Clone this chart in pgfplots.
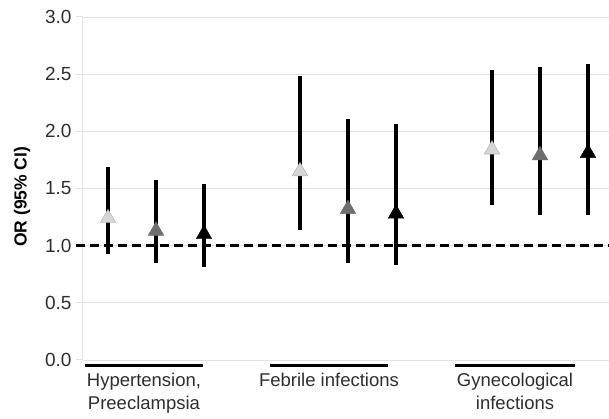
\documentclass[border=0pt]{standalone}
\usepackage{pgfplots}
\pgfplotsset{compat=1.18}
\usepackage{fontspec}
\setmainfont{Liberation Sans}
\definecolor{lightmark}{HTML}{D6D6D6}
\definecolor{midmark}{HTML}{6E6E6E}
\definecolor{gridc}{HTML}{E2E2E2}
\definecolor{txt}{HTML}{2E2E2E}
\begin{document}
\begin{tikzpicture}
\begin{axis}[
  scale only axis, width=526pt, height=343pt,
  xmin=83, xmax=609, ymin=0, ymax=3,
  clip=false,
  axis y line*=left, axis x line*=bottom,
  x axis line style={draw=none},
  y axis line style={gridc, line width=1pt},
  ytick={0,0.5,...,3},
  yticklabels={0.0,0.5,1.0,1.5,2.0,2.5,3.0},
  ymajorgrids, grid style={gridc, line width=0.8pt},
  tick align=outside, major tick length=7pt,
  ytick style={gridc, line width=1pt},
  xtick={144,329,515},
  xticklabels={{Hypertension,\\Preeclampsia},{Febrile infections},{Gynecological\\infections}},
  xtick style={draw=none},
  xticklabel style={align=center, font=\fontsize{18.5}{22.5}\selectfont, text=txt, yshift=-3pt},
  yticklabel style={font=\fontsize{19}{21}\selectfont, text=txt, xshift=-1pt},
  /pgf/number format/assume math mode=true,
  ylabel={\textbf{OR (95\% CI)}},
  ylabel style={font=\fontsize{17.5}{20}\selectfont, text=black, at={(axis description cs:0,0.476)}, anchor=center, yshift=61pt},
]
\coordinate (sw) at (axis cs:83,0);
\coordinate (ne) at (axis cs:609,3);
% dashed reference line
\addplot[black, line width=2.6pt, dash pattern=on 9pt off 5pt] coordinates {(76,1) (609,1)};
% category bars
\addplot[black, line width=3pt] coordinates {(85,-0.045) (203,-0.045)};
\addplot[black, line width=3pt] coordinates {(270,-0.045) (388,-0.045)};
\addplot[black, line width=3pt] coordinates {(455,-0.045) (575,-0.045)};
% CI lines and markers
\addplot[only marks, mark=triangle*, mark size=9pt, mark options={fill=lightmark, draw=lightmark!80!black, line width=0.4pt},
  error bars/.cd, y dir=both, y explicit, error mark=none,
  error bar style={black, line width=3.3pt}]
  coordinates {(108,1.24) += (0,0.45) -= (0,0.31)
               (300,1.65) += (0,0.83) -= (0,0.51)
               (492,1.84) += (0,0.70) -= (0,0.48)};
\addplot[only marks, mark=triangle*, mark size=9pt, mark options={fill=midmark, draw=midmark, line width=0.4pt},
  error bars/.cd, y dir=both, y explicit, error mark=none,
  error bar style={black, line width=3.3pt}]
  coordinates {(156,1.13) += (0,0.44) -= (0,0.28)
               (348,1.32) += (0,0.79) -= (0,0.47)
               (540,1.79) += (0,0.77) -= (0,0.52)};
\addplot[only marks, mark=triangle*, mark size=9pt, mark options={fill=black, draw=black, line width=0.4pt},
  error bars/.cd, y dir=both, y explicit, error mark=none,
  error bar style={black, line width=3.3pt}]
  coordinates {(204,1.10) += (0,0.44) -= (0,0.29)
               (396,1.28) += (0,0.78) -= (0,0.45)
               (588,1.81) += (0,0.78) -= (0,0.54)};
\end{axis}
\pgfresetboundingbox
\path ([shift={(-83pt,-59pt)}]sw) rectangle ([shift={(0pt,17pt)}]ne);
\end{tikzpicture}
\end{document}
